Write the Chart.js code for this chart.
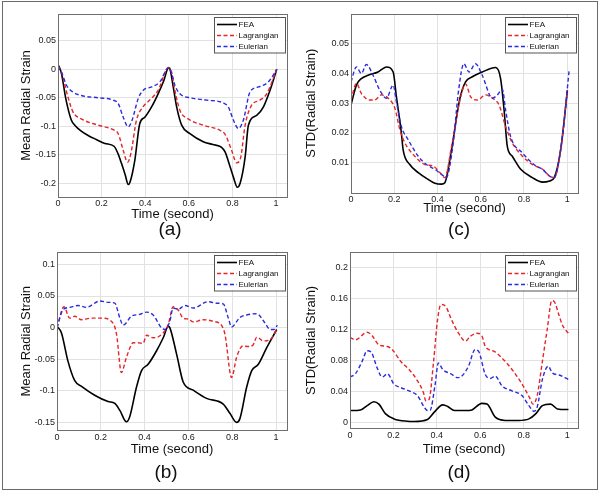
<!DOCTYPE html>
<html>
<head>
<meta charset="utf-8">
<script src="https://cdn.jsdelivr.net/npm/chart.js@4.4.1/dist/chart.umd.min.js"></script>
<style>
html, body { margin: 0; padding: 0; background: #fff; }
#fig { position: relative; width: 600px; height: 495px; font-family: "Liberation Sans", Arial, sans-serif; }
#frame { position: absolute; left: 2px; top: 1px; width: 596px; height: 489px; border: 1.5px solid #6a6a6a; box-sizing: border-box; pointer-events: none; }
canvas { position: absolute; }
.tag { position: absolute; font-size: 19px; color: #111; transform: translate(-50%, -50%); white-space: nowrap; }
</style>
</head>
<body>
<div id="fig">
  <canvas id="chartA" width="300" height="245" style="left:0;top:0"></canvas>
  <canvas id="chartC" width="300" height="245" style="left:300px;top:0"></canvas>
  <canvas id="chartB" width="300" height="245" style="left:0;top:245px"></canvas>
  <canvas id="chartD" width="300" height="245" style="left:300px;top:245px"></canvas>
  <div class="tag" style="left:170px;top:229px">(a)</div>
  <div class="tag" style="left:459px;top:229px">(c)</div>
  <div class="tag" style="left:166px;top:472px">(b)</div>
  <div class="tag" style="left:459px;top:472px">(d)</div>
  <div id="frame"></div>
</div>
<script>
// tick labels
const xTicks = [0, 0.2, 0.4, 0.6, 0.8, 1];
const yTicksA = [-0.2, -0.15, -0.1, -0.05, 0, 0.05];
const yTicksB = [-0.15, -0.1, -0.05, 0, 0.05, 0.1];
const yTicksC = [0.01, 0.02, 0.03, 0.04, 0.05];
const yTicksD = [0, 0.04, 0.08, 0.12, 0.16, 0.2];
const seriesNames = ['FEA', 'Lagrangian', 'Eulerian'];

// (a) mean radial strain
const aFeaT = [0, 0.016, 0.035, 0.061, 0.077, 0.105, 0.138, 0.175, 0.215, 0.257, 0.275, 0.291, 0.308, 0.322, 0.33, 0.352, 0.375, 0.398, 0.429, 0.459, 0.485, 0.507, 0.513, 0.528, 0.544, 0.567, 0.605, 0.666, 0.71, 0.75, 0.766, 0.789, 0.805, 0.822, 0.835, 0.858, 0.873, 0.911, 0.942, 0.972, 1.003];
const aFeaV = [0.009, -0.0075, -0.05, -0.089, -0.098, -0.108, -0.116, -0.123, -0.13, -0.135, -0.148, -0.165, -0.185, -0.202, -0.198, -0.16, -0.095, -0.084, -0.066, -0.043, -0.02, 0.003, 0.001, -0.03, -0.066, -0.098, -0.113, -0.127, -0.132, -0.137, -0.145, -0.171, -0.19, -0.207, -0.2, -0.154, -0.098, -0.081, -0.066, -0.037, 0];
const aLagT = [0, 0.016, 0.046, 0.069, 0.107, 0.184, 0.253, 0.276, 0.299, 0.319, 0.334, 0.36, 0.39, 0.429, 0.459, 0.507, 0.521, 0.536, 0.559, 0.597, 0.666, 0.743, 0.766, 0.796, 0.819, 0.838, 0.858, 0.888, 0.926, 0.957, 1.003];
const aLagV = [0.006, -0.005, -0.049, -0.075, -0.087, -0.098, -0.106, -0.113, -0.142, -0.163, -0.148, -0.089, -0.066, -0.051, -0.037, 0.003, -0.005, -0.037, -0.072, -0.087, -0.098, -0.107, -0.114, -0.142, -0.164, -0.154, -0.098, -0.063, -0.054, -0.043, 0];
const aEulT = [0, 0.016, 0.039, 0.069, 0.107, 0.184, 0.253, 0.276, 0.299, 0.322, 0.34, 0.368, 0.39, 0.429, 0.467, 0.507, 0.521, 0.536, 0.559, 0.605, 0.682, 0.758, 0.781, 0.804, 0.827, 0.85, 0.88, 0.919, 0.965, 1.003];
const aEulV = [0.005, -0.005, -0.028, -0.04, -0.046, -0.05, -0.054, -0.06, -0.084, -0.101, -0.089, -0.051, -0.037, -0.031, -0.022, 0.003, -0.0075, -0.028, -0.043, -0.05, -0.054, -0.059, -0.066, -0.089, -0.104, -0.089, -0.04, -0.031, -0.022, 0];

// (c) std of radial strain
const cFeaT = [0, 0.025, 0.048, 0.079, 0.125, 0.164, 0.195, 0.21, 0.233, 0.241, 0.272, 0.311, 0.357, 0.388, 0.419, 0.434, 0.465, 0.504, 0.53, 0.561, 0.607, 0.669, 0.692, 0.708, 0.723, 0.746, 0.785, 0.839, 0.886, 0.919, 0.94, 0.97, 1.001];
const cFeaV = [0.0294, 0.0361, 0.0383, 0.0394, 0.0405, 0.0422, 0.0405, 0.0322, 0.02, 0.0144, 0.0094, 0.0067, 0.0044, 0.0031, 0.0028, 0.0033, 0.0144, 0.0317, 0.0372, 0.0389, 0.0405, 0.042, 0.0383, 0.0278, 0.0155, 0.0122, 0.0078, 0.005, 0.0035, 0.0039, 0.005, 0.0144, 0.0344];
const cLagT = [0, 0.025, 0.048, 0.087, 0.11, 0.14, 0.172, 0.203, 0.226, 0.249, 0.295, 0.342, 0.38, 0.411, 0.434, 0.465, 0.504, 0.53, 0.553, 0.584, 0.623, 0.654, 0.685, 0.715, 0.746, 0.793, 0.839, 0.886, 0.917, 0.94, 0.97, 1.001];
const cLagV = [0.0311, 0.0367, 0.0333, 0.0311, 0.0311, 0.0328, 0.0317, 0.0283, 0.0211, 0.0167, 0.0122, 0.0094, 0.0089, 0.0067, 0.005, 0.0155, 0.0311, 0.0365, 0.0322, 0.0311, 0.0328, 0.0317, 0.0294, 0.0222, 0.0167, 0.0122, 0.0094, 0.0078, 0.0056, 0.005, 0.0144, 0.0344];
const cEulT = [0, 0.025, 0.048, 0.071, 0.102, 0.133, 0.164, 0.195, 0.21, 0.233, 0.264, 0.311, 0.349, 0.388, 0.427, 0.44, 0.473, 0.496, 0.522, 0.546, 0.576, 0.607, 0.654, 0.677, 0.7, 0.715, 0.738, 0.793, 0.855, 0.886, 0.917, 0.94, 0.978, 1.009];
const cEulV = [0.0372, 0.0422, 0.04, 0.043, 0.0394, 0.0344, 0.0317, 0.0361, 0.0305, 0.0222, 0.0178, 0.0122, 0.0094, 0.0078, 0.0056, 0.005, 0.0167, 0.0333, 0.0433, 0.0405, 0.0433, 0.0394, 0.0317, 0.0328, 0.0347, 0.0278, 0.0189, 0.0133, 0.0089, 0.0078, 0.0056, 0.005, 0.0189, 0.0411];

// (b) mean radial strain
const bFeaT = [0, 0.02, 0.05, 0.081, 0.112, 0.172, 0.233, 0.264, 0.287, 0.317, 0.332, 0.363, 0.386, 0.416, 0.454, 0.485, 0.508, 0.515, 0.546, 0.576, 0.622, 0.683, 0.759, 0.79, 0.82, 0.835, 0.866, 0.889, 0.919, 0.957, 1.003];
const bFeaV = [0.002, -0.008, -0.053, -0.084, -0.093, -0.107, -0.117, -0.12, -0.131, -0.149, -0.141, -0.094, -0.068, -0.058, -0.037, -0.016, 0.002, 0, -0.042, -0.086, -0.099, -0.112, -0.121, -0.136, -0.15, -0.144, -0.094, -0.068, -0.058, -0.032, -0.003];
const bLagT = [0, 0.032, 0.058, 0.081, 0.112, 0.157, 0.203, 0.256, 0.272, 0.294, 0.317, 0.348, 0.371, 0.393, 0.409, 0.439, 0.47, 0.508, 0.53, 0.553, 0.576, 0.6, 0.622, 0.668, 0.713, 0.752, 0.767, 0.797, 0.82, 0.848, 0.873, 0.896, 0.912, 0.942, 0.973, 1.003];
const bLagV = [0, 0.033, 0.015, 0.018, 0.0125, 0.015, 0.015, 0.007, -0.011, -0.071, -0.047, -0.024, -0.024, -0.025, -0.012, -0.016, -0.013, 0.005, 0.033, 0.028, 0.015, 0.0135, 0.009, 0.0125, 0.01, 0.003, -0.011, -0.079, -0.047, -0.029, -0.03, -0.027, -0.015, -0.021, -0.019, -0.003];
const bEulT = [0, 0.027, 0.058, 0.096, 0.134, 0.195, 0.233, 0.264, 0.287, 0.302, 0.34, 0.378, 0.409, 0.439, 0.477, 0.493, 0.515, 0.53, 0.553, 0.584, 0.622, 0.69, 0.729, 0.759, 0.782, 0.797, 0.835, 0.866, 0.912, 0.95, 0.973, 0.99, 1.006];
const bEulV = [0, 0.028, 0.032, 0.035, 0.032, 0.042, 0.04, 0.0386, 0.015, 0.004, 0.018, 0.021, 0.0245, 0.02, -0.0005, -0.003, 0.01, 0.031, 0.029, 0.035, 0.031, 0.041, 0.0386, 0.0375, 0.015, 0.001, 0.016, 0.02, 0.022, 0.007, -0.003, -0.003, 0.004];

// (d) std of radial strain
const dFeaT = [0, 0.048, 0.079, 0.11, 0.133, 0.164, 0.203, 0.264, 0.295, 0.357, 0.388, 0.427, 0.45, 0.481, 0.532, 0.561, 0.607, 0.631, 0.669, 0.715, 0.777, 0.824, 0.855, 0.886, 0.924, 0.955, 1.006];
const dFeaV = [0.0157, 0.0165, 0.022, 0.027, 0.024, 0.0114, 0.005, 0.002, 0.0017, 0.0043, 0.0136, 0.023, 0.021, 0.0157, 0.0157, 0.0165, 0.025, 0.024, 0.0072, 0.003, 0.003, 0.005, 0.0114, 0.022, 0.024, 0.0178, 0.017];
const dLagT = [0, 0.025, 0.079, 0.102, 0.133, 0.172, 0.195, 0.233, 0.272, 0.311, 0.338, 0.349, 0.364, 0.385, 0.403, 0.419, 0.442, 0.465, 0.496, 0.532, 0.553, 0.584, 0.607, 0.623, 0.662, 0.7, 0.746, 0.793, 0.831, 0.842, 0.862, 0.886, 0.909, 0.929, 0.94, 0.963, 0.978, 1.006];
const dLagV = [0.1096, 0.1066, 0.1163, 0.112, 0.1002, 0.098, 0.094, 0.079, 0.0685, 0.0538, 0.039, 0.0284, 0.03, 0.079, 0.132, 0.152, 0.149, 0.134, 0.117, 0.105, 0.111, 0.115, 0.112, 0.098, 0.092, 0.0833, 0.0685, 0.0495, 0.03, 0.024, 0.035, 0.079, 0.1214, 0.157, 0.156, 0.138, 0.1256, 0.115];
const dEulT = [0, 0.025, 0.056, 0.079, 0.097, 0.125, 0.148, 0.172, 0.203, 0.233, 0.28, 0.311, 0.342, 0.357, 0.369, 0.391, 0.407, 0.427, 0.465, 0.496, 0.515, 0.546, 0.576, 0.592, 0.623, 0.646, 0.669, 0.7, 0.746, 0.793, 0.824, 0.847, 0.862, 0.886, 0.913, 0.932, 0.963, 1.006];
const dEulV = [0.0588, 0.063, 0.079, 0.0926, 0.091, 0.0706, 0.0588, 0.063, 0.0495, 0.0453, 0.04, 0.0348, 0.02, 0.0157, 0.016, 0.0474, 0.077, 0.0685, 0.063, 0.058, 0.06, 0.0728, 0.094, 0.092, 0.062, 0.057, 0.06, 0.0474, 0.041, 0.0348, 0.022, 0.0148, 0.02, 0.0558, 0.0728, 0.064, 0.0614, 0.0558];

Chart.defaults.font.family = '"Liberation Sans", Arial, sans-serif';

function zip(t, v) {
    return t.map((x, i) => ({ x: x, y: v[i] }));
}

const seriesStyle = [
    { color: '#000000', dash: [], width: 1.6, order: 3 },
    { color: '#e4252a', dash: [4, 2.5], width: 1.4, order: 2 },
    { color: '#2b2bdc', dash: [4, 2.5], width: 1.4, order: 1 }
];

// plot box around the chart area
const boxPlugin = {
    id: 'plotBox',
    afterDatasetsDraw(chart) {
        const { ctx, chartArea: a } = chart;
        ctx.save();
        ctx.strokeStyle = '#6e6e6e';
        ctx.lineWidth = 1;
        ctx.strokeRect(Math.round(a.left) + 0.5, Math.round(a.top) + 0.5, Math.round(a.right - a.left), Math.round(a.bottom - a.top));
        ctx.restore();
    }
};

// matlab style legend in the top right corner
const legendPlugin = {
    id: 'cornerLegend',
    afterDraw(chart) {
        const { ctx, chartArea } = chart;
        const w = 71, h = 35.5;
        const x = Math.round(chartArea.right - 2.5 - w), y = Math.round(chartArea.top + 2.5);
        ctx.save();
        ctx.fillStyle = '#fff';
        ctx.fillRect(x, y, w, h);
        ctx.strokeStyle = '#555';
        ctx.lineWidth = 1;
        ctx.strokeRect(x + 0.5, y + 0.5, w, h);
        ctx.font = '8px "Liberation Sans", Arial, sans-serif';
        ctx.textBaseline = 'middle';
        chart.data.datasets.forEach((ds, i) => {
            const ly = y + 7.5 + i * 11;
            ctx.strokeStyle = ds.borderColor;
            ctx.lineWidth = ds.borderWidth;
            ctx.setLineDash(ds.borderDash || []);
            ctx.beginPath();
            ctx.moveTo(x + 3, ly);
            ctx.lineTo(x + 23, ly);
            ctx.stroke();
            ctx.setLineDash([]);
            ctx.fillStyle = '#111';
            ctx.fillText(ds.label, x + 24.5, ly);
        });
        ctx.restore();
    }
};

function makePanel(id, p) {
    const el = document.getElementById(id);
    const xh = p.timeY + 7.8 - p.bottom;
    const datasets = p.series.map((s, i) => ({
        label: seriesNames[i],
        data: zip(s[0], s[1]),
        borderColor: seriesStyle[i].color,
        borderWidth: seriesStyle[i].width,
        borderDash: seriesStyle[i].dash,
        order: seriesStyle[i].order,
        pointRadius: 0,
        fill: false,
        cubicInterpolationMode: 'monotone'
    }));
    return new Chart(el.getContext('2d'), {
        type: 'line',
        data: { datasets },
        options: {
            responsive: false,
            animation: false,
            layout: { padding: { left: 0, top: p.top, right: 300 - p.right, bottom: 245 - p.bottom - xh } },
            plugins: { legend: { display: false }, tooltip: { enabled: false } },
            scales: {
                x: {
                    type: 'linear', min: 0, max: 1.05,
                    afterBuildTicks: s => { s.ticks = xTicks.map(v => ({ value: v })); },
                    afterFit: s => { s.height = xh; },
                    grid: { color: '#e2e2e2', drawTicks: false },
                    border: { display: false },
                    ticks: { font: { size: 9 }, color: '#222', padding: p.tickPad, maxRotation: 0, callback: v => String(v) },
                    title: { display: true, text: 'Time (second)', font: { size: 13 }, color: '#111', padding: 0 }
                },
                y: {
                    type: 'linear', min: p.ymin, max: p.ymax,
                    afterBuildTicks: s => { s.ticks = p.yTicks.map(v => ({ value: v })); },
                    afterFit: s => { s.width = p.left; },
                    grid: { color: '#e2e2e2', drawTicks: false },
                    border: { display: false },
                    ticks: { font: { size: 9 }, color: '#222', padding: 2, callback: v => String(v) },
                    title: { display: true, text: p.ylabel, font: { size: 13 }, color: '#111', padding: { top: p.labelX - 7.8, bottom: 0 } }
                }
            }
        },
        plugins: [boxPlugin, legendPlugin]
    });
}

makePanel('chartA', {
    left: 58, right: 287, top: 14, bottom: 197, timeY: 214, labelX: 26.5, tickPad: 1,
    ymin: -0.224, ymax: 0.097, yTicks: yTicksA, ylabel: 'Mean Radial Strain',
    series: [[aFeaT, aFeaV], [aLagT, aLagV], [aEulT, aEulV]]
});
makePanel('chartC', {
    left: 51, right: 278, top: 14, bottom: 192.5, timeY: 208.5, labelX: 11.7, tickPad: 2,
    ymin: 0, ymax: 0.06, yTicks: yTicksC, ylabel: 'STD(Radial Strain)',
    series: [[cFeaT, cFeaV], [cLagT, cLagV], [cEulT, cEulV]]
});
makePanel('chartB', {
    left: 57, right: 287, top: 5, bottom: 185, timeY: 204, labelX: 26.5, tickPad: 2,
    ymin: -0.162, ymax: 0.119, yTicks: yTicksB, ylabel: 'Mean Radial Strain',
    series: [[bFeaT, bFeaV], [bLagT, bLagV], [bEulT, bEulV]]
});
makePanel('chartD', {
    left: 50, right: 278, top: 5, bottom: 183.3, timeY: 204, labelX: 11.7, tickPad: 2,
    ymin: -0.0071, ymax: 0.219, yTicks: yTicksD, ylabel: 'STD(Radial Strain)',
    series: [[dFeaT, dFeaV], [dLagT, dLagV], [dEulT, dEulV]]
});
</script>
</body>
</html>
